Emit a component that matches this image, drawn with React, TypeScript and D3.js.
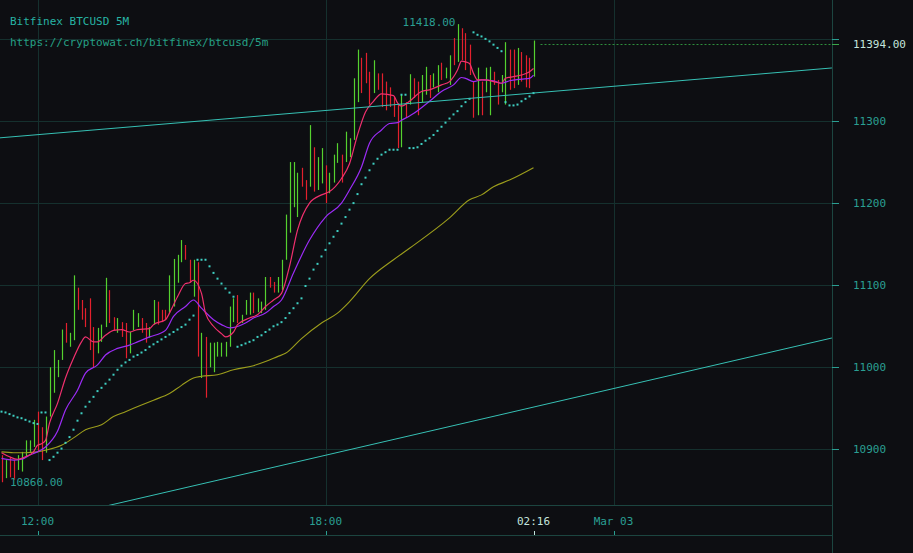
import React from 'react';
import * as d3 from 'd3';

const W = 913;
const H = 553;

// ---- candle data (5m, index 0 = 11:15) ----
const highs = [
  10893, 10887, 10891, 10887, 10893, 10897, 10911, 10911, 10936, 10946,
  10927, 10940, 11000, 11021, 11009, 11046, 11054, 11042, 11112, 11097,
  11082, 11072, 11084, 11049, 11048, 11052, 11109, 11094, 11061, 11060,
  11055, 11054, 11043, 11070, 11066, 11060, 11054, 11049, 11082, 11080,
  11070, 11070, 11112, 11132, 11137, 11155, 11149, 11131, 11131, 11128,
  11042, 11037, 11030, 11030, 11031, 11030, 11031, 11074, 11084, 11088,
  11064, 11082, 11091, 11091, 11084, 11080, 11110, 11110, 11104, 11110,
  11131, 11186, 11250, 11250, 11237, 11243, 11228, 11295, 11268, 11256,
  11267, 11246, 11237, 11259, 11273, 11259, 11287, 11279, 11352, 11387,
  11377, 11383, 11360, 11374, 11358, 11358, 11348, 11341, 11329, 11320,
  11332, 11323, 11357, 11352, 11348, 11356, 11366, 11356, 11358, 11368,
  11371, 11365, 11380, 11401, 11418, 11413, 11407, 11393, 11348, 11365,
  11348, 11365, 11366, 11360, 11350, 11356, 11396, 11387, 11387, 11389,
  11384, 11380, 11377, 11398,
];
const lows = [
  10860, 10865, 10866, 10863, 10875, 10873, 10891, 10897, 10903, 10897,
  10887, 10896, 10940, 10969, 10988, 11009, 11030, 11025, 11033, 11070,
  11058, 11049, 11021, 11000, 11017, 11031, 11049, 11054, 11045, 11042,
  11037, 11011, 11017, 11045, 11049, 11042, 11030, 11036, 11052, 11052,
  11055, 11058, 11066, 11074, 11103, 11128, 11131, 11103, 11086, 11013,
  10987, 10963, 11000, 10994, 11013, 11013, 11013, 11025, 11055, 11054,
  11054, 11064, 11064, 11066, 11067, 11066, 11070, 11097, 11091, 11091,
  11094, 11131, 11164, 11195, 11183, 11220, 11204, 11220, 11214, 11216,
  11224, 11200, 11212, 11225, 11249, 11225, 11250, 11256, 11277, 11323,
  11334, 11346, 11320, 11334, 11338, 11317, 11313, 11317, 11305, 11267,
  11268, 11304, 11320, 11328, 11307, 11323, 11332, 11328, 11341, 11335,
  11350, 11352, 11344, 11368, 11372, 11374, 11362, 11356, 11304, 11307,
  11307, 11335, 11307, 11344, 11320, 11335, 11320, 11338, 11340, 11344,
  11348, 11341, 11340, 11354,
];
// 1 = rising candle, 0 = falling candle
const ups = [
  0, 1, 0, 0, 1, 1, 1, 1, 1, 0,
  0, 1, 1, 1, 1, 1, 0, 1, 1, 0,
  0, 0, 0, 0, 1, 1, 1, 0, 0, 1,
  0, 0, 1, 1, 1, 0, 0, 1, 1, 0,
  0, 0, 1, 1, 1, 1, 0, 0, 1, 0,
  1, 0, 1, 1, 1, 1, 1, 1, 1, 0,
  1, 1, 1, 0, 1, 1, 1, 0, 0, 1,
  1, 1, 1, 1, 1, 0, 0, 1, 0, 1,
  1, 0, 1, 1, 1, 0, 1, 1, 1, 1,
  0, 0, 0, 1, 0, 0, 0, 0, 0, 0,
  1, 0, 1, 0, 0, 1, 1, 0, 1, 1,
  0, 1, 1, 0, 1, 0, 0, 0, 0, 1,
  0, 1, 1, 0, 0, 1, 1, 0, 0, 1,
  0, 0, 0, 1,
];
// Parabolic SAR, one value per candle
const sar = [
  10946, 10945, 10943, 10941, 10939, 10938, 10936, 10934, 10932, 10931,
  10945, 10945, 10887, 10891, 10896, 10901, 10908, 10915, 10924, 10935,
  10944, 10952, 10958, 10964, 10971, 10975, 10980, 10985, 10991, 10997,
  11002, 11006, 11009, 11013, 11015, 11018, 11021, 11025, 11028, 11031,
  11034, 11037, 11040, 11043, 11046, 11049, 11052, 11058, 11063, 11131,
  11131, 11131, 11123, 11115, 11108, 11102, 11096, 11091, 11086, 11025,
  11027, 11029, 11031, 11033, 11037, 11039, 11043, 11046, 11050, 11052,
  11055, 11060, 11066, 11072, 11078, 11084, 11099, 11108, 11119, 11126,
  11135, 11143, 11151, 11159, 11166, 11175, 11183, 11192, 11200, 11211,
  11223, 11231, 11240, 11248, 11254, 11259, 11262, 11265, 11265, 11265,
  11332, 11332, 11267, 11267, 11268, 11272, 11276, 11279, 11283, 11288,
  11293, 11298, 11303, 11308, 11312, 11318, 11323, 11327, 11408, 11405,
  11403, 11400, 11397, 11393, 11389, 11385, 11323, 11319, 11319, 11320,
  11324, 11327, 11330, 11334,
];

// moving averages: [candle index, price]
const emaFast: [number, number][] = [
  [0, 10896], [2, 10891], [4, 10888], [6, 10891], [8, 10897], [9, 10905], [10, 10907], [11, 10911],
  [12, 10932], [14, 10956], [16, 10987], [18, 11011], [20, 11031], [21, 11037], [23, 11031], [24, 11031],
  [26, 11039], [28, 11045], [30, 11046], [32, 11043], [34, 11046], [37, 11047], [38, 11052], [41, 11058],
  [42, 11066], [44, 11086], [46, 11102], [47, 11103], [48, 11106], [50, 11090], [51, 11066], [53, 11050],
  [55, 11041], [56, 11037], [58, 11043], [59, 11052], [62, 11060], [64, 11064], [66, 11074], [68, 11082],
  [70, 11090], [72, 11123], [74, 11167], [77, 11200], [80, 11210], [82, 11214], [85, 11230], [87, 11248],
  [89, 11283], [91, 11311], [93, 11324], [95, 11333], [98, 11331], [99, 11322], [100, 11318], [102, 11324],
  [105, 11336], [107, 11338], [110, 11344], [112, 11348], [114, 11362], [115, 11373], [116, 11372], [117, 11370],
  [118, 11358], [119, 11350], [121, 11350], [123, 11348], [125, 11346], [126, 11352], [128, 11354], [130, 11356],
  [132, 11360], [133, 11364],
];
const emaSlow: [number, number][] = [
  [0, 10889], [3, 10887], [5, 10888], [7, 10893], [9, 10897], [11, 10903], [14, 10922], [16, 10948],
  [19, 10972], [21, 10993], [24, 11003], [26, 11015], [29, 11023], [32, 11027], [34, 11031], [37, 11037],
  [41, 11045], [43, 11062], [46, 11074], [48, 11082], [50, 11072], [53, 11058], [55, 11052], [57, 11048],
  [61, 11054], [63, 11060], [66, 11066], [68, 11074], [70, 11082], [73, 11115], [77, 11155], [81, 11183],
  [85, 11200], [87, 11216], [90, 11244], [92, 11273], [95, 11289], [97, 11297], [99, 11298], [100, 11301],
  [102, 11306], [103, 11309], [107, 11324], [110, 11336], [113, 11344], [115, 11353], [116, 11352], [118, 11348],
  [120, 11350], [123, 11349], [125, 11346], [127, 11349], [130, 11351], [132, 11352], [133, 11356],
];
const maLong: [number, number][] = [
  [0, 10897], [3, 10896], [6, 10896], [9, 10897], [11, 10899], [15, 10905], [18, 10914], [21, 10924],
  [25, 10930], [28, 10940], [31, 10946], [35, 10954], [38, 10960], [42, 10968], [45, 10978], [48, 10987],
  [50, 10989], [54, 10991], [58, 10997], [63, 11002], [66, 11007], [69, 11013], [71, 11017], [75, 11035],
  [80, 11054], [84, 11066], [87, 11080], [92, 11108], [98, 11131], [102, 11145], [112, 11182], [117, 11204],
  [120, 11210], [123, 11220], [127, 11228], [133, 11243],
];
// hand-drawn trend lines: two anchors each [candle index, price]
const trendUpper: [number, number][] = [[-0.4, 11279.5], [207.6, 11364.6]];
const trendLower: [number, number][] = [[26.6, 10831.5], [207.6, 11035.7]];

const lastPrice = 11394;
const priceTicks = [10900, 11000, 11100, 11200, 11300, 11400];
const priceTickLabels = ['10900', '11000', '11100', '11200', '11300', ''];
const timeTickIdx = [9, 81, 153];
const timeTickLabels = ['12:00', '18:00', 'Mar 03'];
const nowLabel = '02:16';
const title = 'Bitfinex BTCUSD 5M';
const subtitle = 'https://cryptowat.ch/bitfinex/btcusd/5m';

const BG = '#0d0e12';
const GRID = '#15302e';
const AXIS = '#1c4540';
const TEAL = '#2a9f92';
const LIGHT = '#c4e4dd';
const GREEN = '#55d12f';
const RED = '#e3202d';
const FONT = "'DejaVu Sans Mono', monospace";

export default function App() {
  const plotR = 832;
  const plotB = 505;
  const x = d3.scaleLinear().domain([0, 133]).range([1.5, 533.5]);
  const y = d3.scaleLinear().domain([10900, 11300]).range([449.4, 121]);

  const line = d3
    .line<[number, number]>()
    .x((d) => x(d[0]))
    .y((d) => y(d[1]))
    .curve(d3.curveMonotoneX);
  const straight = d3
    .line<[number, number]>()
    .x((d) => x(d[0]))
    .y((d) => y(d[1]));

  const hiIdx = d3.maxIndex(highs);
  const loIdx = d3.minIndex(lows);
  const lastIdx = highs.length - 1;

  return (
    <svg
      width={W}
      height={H}
      style={{ position: 'absolute', left: 0, top: 0, display: 'block', background: BG }}
    >
      <defs>
        <clipPath id="plot">
          <rect x={0} y={0} width={plotR} height={plotB} />
        </clipPath>
      </defs>
      <rect x={0} y={0} width={W} height={H} fill={BG} />

      {/* grid */}
      {priceTicks.map((p) => (
        <line key={'h' + p} x1={0} x2={plotR} y1={Math.round(y(p)) + 0.5} y2={Math.round(y(p)) + 0.5} stroke={GRID} />
      ))}
      {timeTickIdx.map((t) => (
        <line key={'v' + t} x1={Math.round(x(t)) + 0.5} x2={Math.round(x(t)) + 0.5} y1={0} y2={plotB} stroke={GRID} />
      ))}

      {/* axes frame */}
      <line x1={plotR + 0.5} x2={plotR + 0.5} y1={0} y2={H} stroke={AXIS} />
      <line x1={0} x2={plotR} y1={plotB + 0.5} y2={plotB + 0.5} stroke={AXIS} />
      <line x1={0} x2={plotR} y1={535.5} y2={535.5} stroke={AXIS} />

      <g clipPath="url(#plot)">
        {/* candles */}
        {highs.map((h, i) => (
          <line
            key={'c' + i}
            x1={Math.round(x(i)) + 0.5}
            x2={Math.round(x(i)) + 0.5}
            y1={y(h)}
            y2={y(lows[i])}
            stroke={ups[i] ? GREEN : RED}
            strokeWidth={1.2}
          />
        ))}
        {/* moving averages */}
        <path d={line(maLong) || ''} fill="none" stroke="#9c9d1c" strokeWidth={1.1} />
        <path d={line(emaSlow) || ''} fill="none" stroke="#9b2cf5" strokeWidth={1.2} />
        <path d={line(emaFast) || ''} fill="none" stroke="#f0306e" strokeWidth={1.2} />
        {/* SAR */}
        {sar.map((s, i) => (
          <rect key={'s' + i} x={x(i) - 1} y={y(s) - 1} width={2} height={2} fill="#3fcfc2" />
        ))}
        {/* trend lines */}
        <path d={straight(trendUpper) || ''} fill="none" stroke="#36c0b4" strokeWidth={1} />
        <path d={straight(trendLower) || ''} fill="none" stroke="#36c0b4" strokeWidth={1} />
        {/* last price */}
        <line
          x1={x(lastIdx) + 7}
          x2={plotR}
          y1={Math.round(y(lastPrice)) + 0.5}
          y2={Math.round(y(lastPrice)) + 0.5}
          stroke="#2e8f3c"
          strokeDasharray="2,2"
        />
      </g>

      {/* high / low labels */}
      <text x={x(hiIdx) - 2} y={y(highs[hiIdx]) + 2} fill={TEAL} fontFamily={FONT} fontSize={11} textAnchor="end">
        {highs[hiIdx].toFixed(2)}
      </text>
      <text x={x(loIdx) + 8.5} y={y(lows[loIdx]) + 4} fill={TEAL} fontFamily={FONT} fontSize={11}>
        {lows[loIdx].toFixed(2)}
      </text>

      {/* right axis */}
      {priceTicks.map((p, k) => (
        <g key={'t' + p}>
          <line x1={plotR} x2={plotR + 7} y1={Math.round(y(p)) + 0.5} y2={Math.round(y(p)) + 0.5} stroke={TEAL} />
          {priceTickLabels[k] && (
            <text x={853} y={y(p) + 4} fill={TEAL} fontFamily={FONT} fontSize={11}>
              {priceTickLabels[k]}
            </text>
          )}
        </g>
      ))}
      <line
        x1={plotR}
        x2={plotR + 7}
        y1={Math.round(y(lastPrice)) + 0.5}
        y2={Math.round(y(lastPrice)) + 0.5}
        stroke="#3aa84a"
      />
      <text x={853} y={y(lastPrice) + 4} fill={LIGHT} fontFamily={FONT} fontSize={11}>
        {lastPrice.toFixed(2)}
      </text>

      {/* bottom axis */}
      {timeTickIdx.map((t, k) => (
        <g key={'b' + t}>
          <line x1={Math.round(x(t)) + 0.5} x2={Math.round(x(t)) + 0.5} y1={531} y2={535} stroke={TEAL} />
          <text x={x(t)} y={525} fill={TEAL} fontFamily={FONT} fontSize={11} textAnchor="middle">
            {timeTickLabels[k]}
          </text>
        </g>
      ))}
      <line x1={Math.round(x(lastIdx)) + 0.5} x2={Math.round(x(lastIdx)) + 0.5} y1={531} y2={535} stroke={LIGHT} />
      <text x={x(lastIdx)} y={525} fill={LIGHT} fontFamily={FONT} fontSize={11} textAnchor="middle">
        {nowLabel}
      </text>

      {/* header */}
      <text x={10} y={25} fill="#27b3a4" fontFamily={FONT} fontSize={11}>
        {title}
      </text>
      <text x={10} y={46} fill="#25a085" fontFamily={FONT} fontSize={11}>
        {subtitle}
      </text>
    </svg>
  );
}
